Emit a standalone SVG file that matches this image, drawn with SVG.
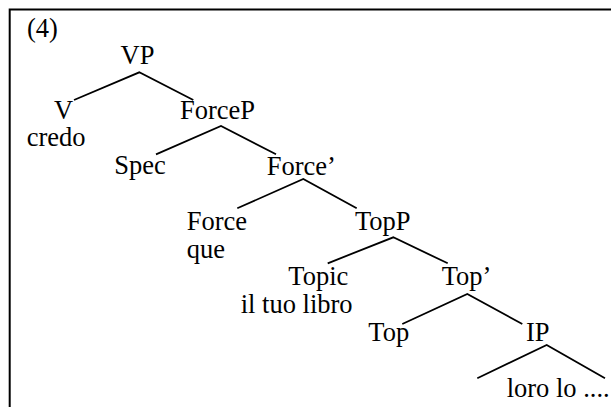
<svg xmlns="http://www.w3.org/2000/svg" width="611" height="407" viewBox="0 0 611 407">
<style>
text{font-family:"Liberation Serif","Times New Roman",serif;font-size:26.5px;fill:#000}
.e{stroke:#000;stroke-width:1.8;fill:none}
</style>
<rect x="0" y="0" width="611" height="407" fill="#fff"/>
<path d="M9.7,407 V9.4 H611" fill="none" stroke="#000" stroke-width="2"/>
<text x="27" y="37">(4)</text>
<g id="connectors">
<polyline class="e" points="74,100 139.3,72.3 193.3,100"/>
<polyline class="e" points="156,154.3 221,126 276,154.3"/>
<polyline class="e" points="237.3,208.3 303.3,179 356.7,208.3"/>
<polyline class="e" points="327.7,263.3 393.3,237.3 447.7,263.3"/>
<polyline class="e" points="402.3,324 467.3,294 522.3,324"/>
<polyline class="e" points="477.3,378.3 546.7,345 605,378.3"/>
</g>
<g id="VP"><text x="120.5" y="64">VP</text></g>
<g id="V"><text x="54" y="119">V</text><text x="26.7" y="146">credo</text></g>
<g id="ForceP"><text x="180" y="119.3">ForceP</text></g>
<g id="Spec"><text x="114.3" y="174">Spec</text></g>
<g id="ForceBar"><text x="266.7" y="175">Force’</text></g>
<g id="Force"><text x="186.7" y="230">Force</text><text x="186.7" y="258">que</text></g>
<g id="TopP"><text x="355" y="230">TopP</text></g>
<g id="Topic"><text x="288.3" y="285">Topic</text><text x="240.7" y="313">il tuo libro</text></g>
<g id="TopBar"><text x="441.7" y="285">Top’</text></g>
<g id="Top"><text x="368.3" y="340.7">Top</text></g>
<g id="IP"><text x="526" y="340.7">IP</text></g>
<g id="IPcontent"><text x="506.7" y="396.7">loro lo ....</text></g>
</svg>
